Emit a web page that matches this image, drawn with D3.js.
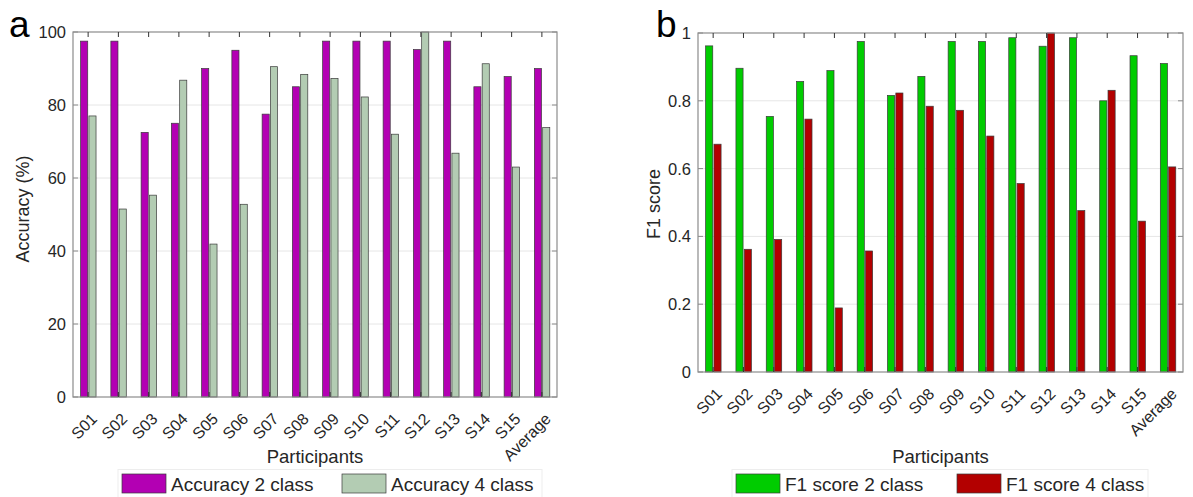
<!DOCTYPE html>
<html>
<head>
<meta charset="utf-8">
<script src="https://cdn.jsdelivr.net/npm/d3@7/dist/d3.min.js"></script>
<style>
  html, body { margin: 0; padding: 0; background: #fff; }
  svg { display: block; font-family: "Liberation Sans", Arial, Helvetica, sans-serif; }
</style>
</head>
<body>
<svg id="chart" width="1193" height="497"></svg>
<script>
// ---------- data ----------
const categories = ["S01","S02","S03","S04","S05","S06","S07","S08","S09","S10","S11","S12","S13","S14","S15","Average"];
const accuracy2 = [97.5, 97.5, 72.5, 75.0, 90.0, 95.0, 77.5, 85.0, 97.5, 97.5, 97.5, 95.2, 97.5, 85.0, 87.8, 90.0];
const accuracy4 = [77.0, 51.5, 55.3, 86.8, 41.9, 52.8, 90.5, 88.4, 87.3, 82.2, 72.0, 100.0, 66.8, 91.3, 63.0, 73.8];
const f1Score2 = [0.962, 0.896, 0.754, 0.857, 0.889, 0.975, 0.816, 0.872, 0.975, 0.975, 0.986, 0.961, 0.986, 0.800, 0.933, 0.910];
const f1Score4 = [0.672, 0.362, 0.391, 0.746, 0.189, 0.357, 0.823, 0.784, 0.772, 0.696, 0.556, 1.000, 0.476, 0.831, 0.445, 0.605];
const accTicks = [0, 20, 40, 60, 80, 100];
const f1Ticks = [0, 0.2, 0.4, 0.6, 0.8, 1];
const accSeriesNames = ["Accuracy 2 class", "Accuracy 4 class"];
const f1SeriesNames = ["F1 score 2 class", "F1 score 4 class"];

const svg = d3.select("#chart");

function drawPanel(cfg) {
  const g = svg.append("g");
  const x = d3.scaleBand().domain(categories).range([cfg.left, cfg.right]).padding(0);
  const y = d3.scaleLinear().domain([0, cfg.ymax]).range([cfg.bottom, cfg.top]);
  const bw = x.bandwidth();
  const barW = bw * 0.235;

  // grid
  g.append("g").selectAll("line").data(cfg.yticks.slice(1, -1)).join("line")
    .attr("x1", cfg.left).attr("x2", cfg.right)
    .attr("y1", d => y(d)).attr("y2", d => y(d))
    .attr("stroke", "#e6e6e6").attr("stroke-width", 1);

  // bars
  const rows = categories.map((c, i) => ({c, a: cfg.s1[i], b: cfg.s2[i]}));
  g.append("g").selectAll("rect").data(rows).join("rect")
    .attr("x", d => x(d.c) + bw / 2 - barW - 0.4)
    .attr("y", d => y(d.a))
    .attr("width", barW)
    .attr("height", d => y(0) - y(d.a))
    .attr("fill", cfg.c1).attr("stroke", "#3a3a3a").attr("stroke-width", 0.7);
  g.append("g").selectAll("rect").data(rows).join("rect")
    .attr("x", d => x(d.c) + bw / 2 + 0.8)
    .attr("y", d => y(d.b))
    .attr("width", barW)
    .attr("height", d => y(0) - y(d.b))
    .attr("fill", cfg.c2).attr("stroke", "#3a3a3a").attr("stroke-width", 0.7);

  // box
  g.append("rect")
    .attr("x", cfg.left).attr("y", cfg.top)
    .attr("width", cfg.right - cfg.left).attr("height", cfg.bottom - cfg.top)
    .attr("fill", "none").attr("stroke", "#8c8c8c").attr("stroke-width", 1.2);

  // x ticks (top & bottom, inward)
  const tk = g.append("g").attr("stroke", "#333").attr("stroke-width", 1);
  categories.forEach(c => {
    const cx = x(c) + bw / 2;
    tk.append("line").attr("x1", cx).attr("x2", cx).attr("y1", cfg.top).attr("y2", cfg.top + 5);
    tk.append("line").attr("x1", cx).attr("x2", cx).attr("y1", cfg.bottom).attr("y2", cfg.bottom - 5);
  });
  // y ticks inward
  cfg.yticks.forEach(t => {
    g.append("line").attr("x1", cfg.right).attr("x2", cfg.right - 5)
      .attr("y1", y(t)).attr("y2", y(t)).attr("stroke", "#8c8c8c").attr("stroke-width", 1);
    g.append("line").attr("x1", cfg.left).attr("x2", cfg.left + 5)
      .attr("y1", y(t)).attr("y2", y(t)).attr("stroke", "#8c8c8c").attr("stroke-width", 1);
  });

  // y tick labels
  g.append("g").selectAll("text").data(cfg.yticks).join("text")
    .attr("x", cfg.left - 7).attr("y", d => y(d))
    .attr("text-anchor", "end").attr("dominant-baseline", "central")
    .attr("font-size", 16.5).attr("fill", "#262626")
    .text(d => cfg.fmt(d));

  // x tick labels rotated
  g.append("g").selectAll("text").data(categories).join("text")
    .attr("transform", c => `translate(${x(c) + bw / 2 + 10},${cfg.bottom + 23}) rotate(-45)`)
    .attr("text-anchor", "end")
    .attr("font-size", 16).attr("fill", "#262626")
    .text(c => c);

  // axis labels
  g.append("text")
    .attr("x", (cfg.left + cfg.right) / 2).attr("y", 463)
    .attr("text-anchor", "middle").attr("font-size", 18.5).attr("fill", "#262626")
    .text("Participants");
  g.append("text")
    .attr("transform", `translate(${cfg.ylabX},${cfg.ylabY}) rotate(-90)`)
    .attr("text-anchor", "middle").attr("font-size", 18).attr("fill", "#262626")
    .text(cfg.ylabel);

  // panel letter
  g.append("text").attr("x", cfg.letterX).attr("y", 37)
    .attr("font-size", 37).attr("fill", "#000").text(cfg.letter);

  // legend
  const lg = g.append("g");
  lg.append("rect").attr("x", cfg.legX).attr("y", 469.5).attr("width", cfg.legW).attr("height", 30)
    .attr("fill", "#fff").attr("stroke", "#ededed").attr("stroke-width", 1);
  cfg.names.forEach((n, i) => {
    const sx = cfg.legItems[i];
    lg.append("rect").attr("x", sx).attr("y", 474).attr("width", 44).attr("height", 19)
      .attr("fill", i === 0 ? cfg.c1 : cfg.c2).attr("stroke", "#3a3a3a").attr("stroke-width", 0.7);
    lg.append("text").attr("x", sx + 49).attr("y", 491)
      .attr("font-size", 19).attr("fill", "#262626").text(n);
  });
}

drawPanel({
  left: 73, right: 557, top: 32, bottom: 397, ymax: 100,
  s1: accuracy2, s2: accuracy4, c1: "#b300b3", c2: "#b3ccb3",
  yticks: accTicks, fmt: d => d3.format("d")(d),
  ylabel: "Accuracy (%)", ylabX: 29, ylabY: 209,
  letter: "a", letterX: 9,
  names: accSeriesNames, legX: 118, legW: 424, legItems: [122, 342]
});

drawPanel({
  left: 698, right: 1183, top: 33, bottom: 372, ymax: 1,
  s1: f1Score2, s2: f1Score4, c1: "#00cc00", c2: "#b30000",
  yticks: f1Ticks, fmt: d => d === 0 || d === 1 ? String(d) : d3.format(".1f")(d),
  ylabel: "F1 score", ylabX: 660, ylabY: 204,
  letter: "b", letterX: 656,
  names: f1SeriesNames, legX: 732, legW: 416, legItems: [736, 957]
});
</script>
</body>
</html>
